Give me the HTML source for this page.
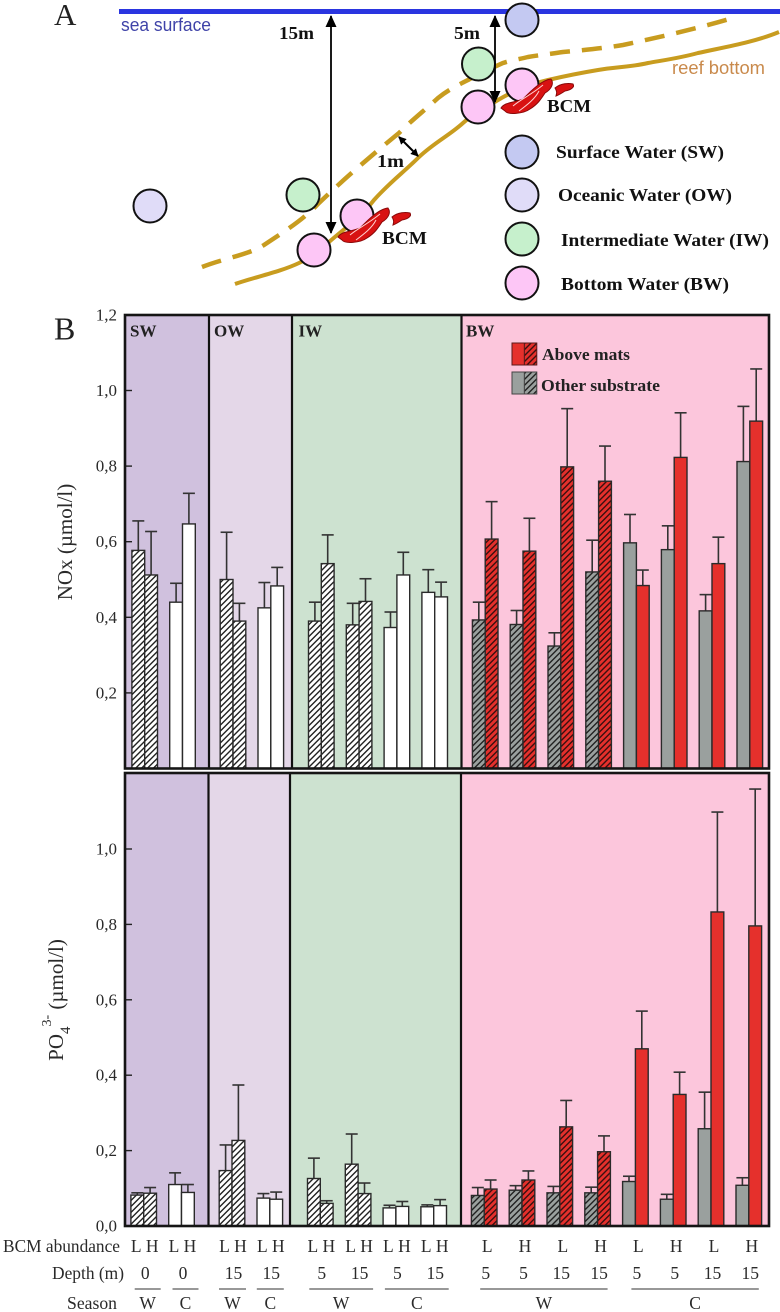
<!DOCTYPE html>
<html lang="en">
<head>
<meta charset="utf-8">
<title>BCM nutrient chart</title>
<style>
html,body{margin:0;padding:0;background:#fff;}
svg{display:block;}
text{font-family:"Liberation Serif","DejaVu Serif",serif;}
</style>
</head>
<body>
<svg id="fig" xmlns="http://www.w3.org/2000/svg" width="780" height="1312" viewBox="0 0 780 1312">
<defs>
<pattern id="hatch-white" patternUnits="userSpaceOnUse" width="4.2" height="4.2" patternTransform="rotate(45)"><rect width="4.2" height="4.2" fill="#fff"/><rect width="1.4" height="4.2" fill="#222"/></pattern>
<pattern id="hatch-gray" patternUnits="userSpaceOnUse" width="4.2" height="4.2" patternTransform="rotate(45)"><rect width="4.2" height="4.2" fill="#9aa09e"/><rect width="1.4" height="4.2" fill="#222"/></pattern>
<pattern id="hatch-red" patternUnits="userSpaceOnUse" width="4.2" height="4.2" patternTransform="rotate(45)"><rect width="4.2" height="4.2" fill="#e5302c"/><rect width="1.4" height="4.2" fill="#3a1010"/></pattern>
<marker id="ah" markerWidth="13" markerHeight="12" refX="11" refY="5.5" orient="auto-start-reverse" markerUnits="userSpaceOnUse"><path d="M0,0 L12,5.5 L0,11 Z" fill="#000"/></marker>
<marker id="ah-small" markerWidth="9" markerHeight="9" refX="7" refY="4" orient="auto-start-reverse" markerUnits="userSpaceOnUse"><path d="M0,0 L8,4 L0,8 Z" fill="#000"/></marker>
</defs>

<g>
<text x="54" y="25" font-size="31" fill="#222">A</text>
<rect x="119" y="9" width="661" height="5" fill="#2a35e0"/>
<text x="121" y="31" font-size="18" fill="#3f43a8" textLength="90" lengthAdjust="spacingAndGlyphs" style="font-family:'Liberation Sans',sans-serif">sea surface</text>
<path d="M235,284 C255,277 280,272 299,263 C315,255 322,248 329,242 C345,228 360,218 374,200 C390,182 404,172 419,157 C435,142 450,135 463,123 C475,112 485,108 498,100 C515,90 530,84 548,80 C565,76 580,73 598,70 C615,67 632,67 648,63 C665,60 680,58 698,53 C725,47 755,42 779,32" fill="none" stroke="#c89c1f" stroke-width="4"/>
<path d="M202,267 C225,258 248,255 264,245 C285,231 303,220 319,203 C345,178 372,155 399,133 C412,120 425,110 438,98 C448,90 458,85 468,80 C480,73 492,68 503,63 C512,60 520,59 528,57 C540,55 550,54 563,52 C585,50 605,48 623,45 C660,37 700,28 736,17" fill="none" stroke="#c89c1f" stroke-width="4.5" stroke-dasharray="20 12"/>
<ellipse cx="522" cy="152" rx="16.5" ry="16.5" fill="#c4c9f2" stroke="#111" stroke-width="2"/>
<ellipse cx="522" cy="195" rx="16.5" ry="16.5" fill="#e0dcf8" stroke="#111" stroke-width="2"/>
<ellipse cx="522" cy="239" rx="16.5" ry="16.5" fill="#c6f0cc" stroke="#111" stroke-width="2"/>
<ellipse cx="522" cy="283" rx="16.5" ry="16.5" fill="#fdc6f6" stroke="#111" stroke-width="2"/>
<ellipse cx="522" cy="20" rx="16.5" ry="16.5" fill="#c4c9f2" stroke="#111" stroke-width="2"/>
<ellipse cx="478.5" cy="64" rx="16.5" ry="16.5" fill="#c6f0cc" stroke="#111" stroke-width="2"/>
<ellipse cx="522" cy="85" rx="16.5" ry="16.5" fill="#fdc6f6" stroke="#111" stroke-width="2"/>
<ellipse cx="478" cy="107" rx="16.5" ry="16.5" fill="#fdc6f6" stroke="#111" stroke-width="2"/>
<ellipse cx="150" cy="206" rx="16.5" ry="16.5" fill="#e0dcf8" stroke="#111" stroke-width="2"/>
<ellipse cx="303" cy="195" rx="16.5" ry="16.5" fill="#c6f0cc" stroke="#111" stroke-width="2"/>
<ellipse cx="357" cy="216" rx="16.5" ry="16.5" fill="#fdc6f6" stroke="#111" stroke-width="2"/>
<ellipse cx="314" cy="250" rx="16.5" ry="16.5" fill="#fdc6f6" stroke="#111" stroke-width="2"/>
<line x1="331" y1="16" x2="331" y2="233" stroke="#000" stroke-width="1.8" marker-start="url(#ah)" marker-end="url(#ah)"/>
<line x1="495" y1="16" x2="495" y2="102" stroke="#000" stroke-width="1.8" marker-start="url(#ah)" marker-end="url(#ah)"/>
<line x1="399" y1="137" x2="418" y2="156" stroke="#000" stroke-width="2" marker-start="url(#ah-small)" marker-end="url(#ah-small)"/>
<g fill="#d81212" stroke="#8a0808" stroke-width="1">
<path d="M338,237 C342,231 350,232 360,228 C366,222 378,209 388,208 C391,212 389,218 382,222 C378,228 375,233 367,238 C360,243 345,244 342,240 Z"/>
<path d="M392,217 C398,212 406,212 410,213 C412,216 408,219 402,220 C399,222 396,224 393,225 C394,222 394,220 392,217 Z"/>
<path d="M350,235 C358,228 368,224 380,214 M356,240 C364,234 372,228 376,220" stroke="#ffd0d0" stroke-width="1" fill="none"/>
</g>
<g fill="#d81212" stroke="#8a0808" stroke-width="1" transform="translate(163,-129)">
<path d="M338,237 C342,231 350,232 360,228 C366,222 378,209 388,208 C391,212 389,218 382,222 C378,228 375,233 367,238 C360,243 345,244 342,240 Z"/>
<path d="M392,217 C398,212 406,212 410,213 C412,216 408,219 402,220 C399,222 396,224 393,225 C394,222 394,220 392,217 Z"/>
<path d="M350,235 C358,228 368,224 380,214 M356,240 C364,234 372,228 376,220" stroke="#ffd0d0" stroke-width="1" fill="none"/>
</g>
<g font-weight="bold" fill="#111" font-size="18">
<text x="279" y="39" textLength="35" lengthAdjust="spacingAndGlyphs">15m</text>
<text x="454" y="39" textLength="26" lengthAdjust="spacingAndGlyphs">5m</text>
<text x="377" y="167" textLength="27" lengthAdjust="spacingAndGlyphs">1m</text>
<text x="382" y="244" textLength="45" lengthAdjust="spacingAndGlyphs">BCM</text>
<text x="547" y="112" textLength="44" lengthAdjust="spacingAndGlyphs">BCM</text>
<text x="556" y="158" textLength="168" lengthAdjust="spacingAndGlyphs">Surface Water (SW)</text>
<text x="558" y="201" textLength="174" lengthAdjust="spacingAndGlyphs">Oceanic Water (OW)</text>
<text x="561" y="246" textLength="208" lengthAdjust="spacingAndGlyphs">Intermediate Water (IW)</text>
<text x="561" y="290" textLength="168" lengthAdjust="spacingAndGlyphs">Bottom Water (BW)</text>
</g>
<text x="672" y="74" font-size="18" fill="#c98a4c" textLength="93" lengthAdjust="spacingAndGlyphs" style="font-family:'Liberation Sans',sans-serif">reef bottom</text>
</g>

<text x="54" y="339.5" font-size="32" fill="#222">B</text>
<g id="charts"></g>
</svg>

<script>
/* ---- data ---- */
const regions = ["SW", "OW", "IW", "BW"];
const groupRegion = ["SW","SW","OW","OW","IW","IW","IW","IW","BW","BW","BW","BW","BW","BW","BW","BW"];
const groupSeason = ["W","C","W","C","W","W","C","C","W","W","W","W","C","C","C","C"];
const groupDepth = ["0","0","15","15","5","15","5","15","5","5","15","15","5","5","15","15"];
const bwAbundance = ["L","H","L","H","L","H","L","H"];
const noxLow  = [0.577,0.440,0.500,0.425,0.390,0.380,0.373,0.466,0.393,0.381,0.324,0.520,0.597,0.579,0.417,0.812];
const noxHigh = [0.512,0.647,0.390,0.483,0.542,0.442,0.512,0.454,0.607,0.575,0.798,0.760,0.484,0.823,0.542,0.919];
const noxLowErr  = [0.655,0.490,0.625,0.492,0.440,0.437,0.414,0.526,0.440,0.418,0.359,0.604,0.672,0.642,0.460,0.958];
const noxHighErr = [0.627,0.728,0.437,0.532,0.618,0.502,0.572,0.493,0.706,0.662,0.952,0.853,0.525,0.941,0.612,1.057];
const poLow  = [0.082,0.110,0.147,0.074,0.126,0.164,0.048,0.051,0.081,0.095,0.088,0.088,0.118,0.071,0.258,0.108];
const poHigh = [0.087,0.089,0.227,0.071,0.060,0.086,0.052,0.054,0.098,0.122,0.263,0.197,0.470,0.349,0.833,0.796];
const poLowErr  = [0.088,0.141,0.215,0.086,0.180,0.244,0.055,0.056,0.102,0.107,0.105,0.103,0.132,0.084,0.355,0.128];
const poHighErr = [0.102,0.110,0.374,0.090,0.067,0.114,0.065,0.070,0.122,0.146,0.333,0.239,0.570,0.408,1.098,1.159];
const noxTicks = ["0,2","0,4","0,6","0,8","1,0","1,2"];
const noxTickValues = [0.2,0.4,0.6,0.8,1.0,1.2];
const poTicks = ["0,0","0,2","0,4","0,6","0,8","1,0"];
const poTickValues = [0,0.2,0.4,0.6,0.8,1.0];

/* ---- axis functions ---- */
const NS = "http://www.w3.org/2000/svg";
const root = document.getElementById("charts");
function noxY(v){ return 768.5 - v * 378; }
function poY(v){ return 1226 - v * 377; }
function regionBreaks(i){
  let n = 0;
  for (let k = 1; k <= i; k++) { if (groupRegion[k] !== groupRegion[k-1]) n++; }
  return n;
}
function groupX(i, shift){ return 144.7 + 37.8 * i + 12.7 * regionBreaks(i) + shift; }
function el(tag, attrs, parent){
  const e = document.createElementNS(NS, tag);
  for (const k in attrs) e.setAttribute(k, attrs[k]);
  (parent || root).appendChild(e);
  return e;
}
function label(str, x, y, size, extra){
  const t = el("text", Object.assign({x:x, y:y, "font-size":size, fill:"#2a2a2a"}, extra || {}));
  t.textContent = str;
  return t;
}
function barFill(region, season, isHigh){
  const base = region !== "BW" ? "white" : (isHigh ? "red" : "gray");
  if (season === "W") return "url(#hatch-" + base + ")";
  return base === "white" ? "#fff" : base === "red" ? "#e5302c" : "#9aa09e";
}
const panelFills = {SW:"#d0c1de", OW:"#e4d7e8", IW:"#cde2d0", BW:"#fcc6dc"};
const spanInsetLeft = {SW:9, OW:13, IW:11, BW:4};
const spanInsetRight = {SW:17, OW:14, IW:15, BW:10};

function drawPanel(key, yFn, yTop, yBottom, dividers, shift, lows, highs, lowErrs, highErrs, ticks, tickValues){
  const edges = [125].concat(dividers).concat([769]);
  regions.forEach(function(r, idx){
    const bg = el("rect", {x:edges[idx], y:yTop, width:edges[idx+1]-edges[idx], height:yBottom-yTop, fill:panelFills[r]});
    
    
  });
  tickValues.forEach(function(v, i){
    const y = yFn(v);
    if (v > 0 && v < 1.2) {
      const tk = el("line", {x1:125, x2:132, y1:y, y2:y, stroke:"#222", "stroke-width":1.4});
      
      
    }
    const tl = label(ticks[i], 117, y + 5.5, 17, {"text-anchor":"end"});
    
    
  });
  groupRegion.forEach(function(r, i){
    const cx = groupX(i, shift), w = 12.8;
    const s = groupSeason[i];
    [[lows[i], lowErrs[i], false], [highs[i], highErrs[i], true]].forEach(function(b){
      const x = b[2] ? cx : cx - w;
      const m = x + w/2;
      const stem = el("line", {x1:m, x2:m, y1:yFn(b[0]), y2:yFn(b[1]), stroke:"#333", "stroke-width":1.6});
      
      
      const cap = el("line", {x1:m-6, x2:m+6, y1:yFn(b[1]), y2:yFn(b[1]), stroke:"#333", "stroke-width":1.6});
      
      
    });
    [[lows[i], false], [highs[i], true]].forEach(function(b){
      const x = b[1] ? cx : cx - w;
      const rc = el("rect", {x:x, y:yFn(b[0]), width:w, height:yBottom-yFn(b[0]), fill:barFill(r, s, b[1]), stroke:"#2a2a2a", "stroke-width":1.4});
      
      
    });
  });
  dividers.forEach(function(x){
    const d = el("line", {x1:x, x2:x, y1:yTop, y2:yBottom, stroke:"#111", "stroke-width":2.2});
    
    
  });
  const fr = el("rect", {x:125, y:yTop, width:644, height:yBottom-yTop, fill:"none", stroke:"#151515", "stroke-width":2.6});
  
  
}

drawPanel("nox", noxY, 315, 768.5, [209, 292, 461.5], 0, noxLow, noxHigh, noxLowErr, noxHighErr, noxTicks, noxTickValues);
drawPanel("po4", poY, 773, 1226, [208.5, 290, 461], -1, poLow, poHigh, poLowErr, poHighErr, poTicks, poTickValues);

/* region labels */
regions.forEach(function(r, i){
  const xs = [130, 214, 298.5, 466];
  const t = label(r, xs[i], 336.5, 17, {"font-weight":"bold", fill:"#222"});
  
  
});

/* legend */
[["Above mats", 343, "#e5302c", "url(#hatch-red)", 542, 360, "#5a1a1a", 88], ["Other substrate", 372, "#9aa09e", "url(#hatch-gray)", 541, 391, "#444", 119]].forEach(function(d){
  const a = el("rect", {x:512, y:d[1], width:12.4, height:22, fill:d[2], stroke:d[6], "stroke-width":1});
  
  
  const b = el("rect", {x:524.4, y:d[1], width:12.4, height:22, fill:d[3], stroke:d[6], "stroke-width":1});
  
  
  const t = label(d[0], d[4], d[5], 16.5, {"font-weight":"bold", fill:"#222", textLength:d[7], lengthAdjust:"spacingAndGlyphs"});
  
  
});

/* y-axis titles */
const t1 = label("NOx (µmol/l)", 0, 0, 21, {"text-anchor":"middle", transform:"translate(72,542) rotate(-90)"});


const t2 = label("", 0, 0, 21, {"text-anchor":"middle", transform:"translate(63,1000) rotate(-90)"});


el("tspan", {}, t2).textContent = "PO";
el("tspan", {dy:7, "font-size":15}, t2).textContent = "4";
el("tspan", {dy:-19, "font-size":14}, t2).textContent = "3-";
el("tspan", {dy:12}, t2).textContent = " (µmol/l)";

/* row titles */
[["BCM abundance", 3, 1252, 117], ["Depth (m)", 52, 1279, 72], ["Season", 67, 1309, 50]].forEach(function(d){
  const t = label(d[0], d[1], d[2], 17.5, {textLength:d[3], lengthAdjust:"spacingAndGlyphs"});
  
  
});

/* abundance and depth rows */
groupRegion.forEach(function(r, i){
  const cx = groupX(i, -1);
  if (r !== "BW") {
    const a = label("L", cx - 7.5, 1252, 17.5, {"text-anchor":"middle"});
    
    
    const b = label("H", cx + 8.5, 1252, 17.5, {"text-anchor":"middle"});
    
    
  } else {
    const c = label(bwAbundance[i - 8], cx + 3, 1252, 17.5, {"text-anchor":"middle"});
    
    
  }
  const d = label(groupDepth[i], cx + 1.5, 1279, 17.5, {"text-anchor":"middle"});
  
  
});

/* season spans: runs of groups sharing a region and season */
let runStart = 0;
groupRegion.forEach(function(r, i){
  const last = i === groupRegion.length - 1;
  if (last || groupRegion[i+1] !== r || groupSeason[i+1] !== groupSeason[i]) {
    const x1 = groupX(runStart, -1) - spanInsetLeft[r], x2 = groupX(i, -1) + spanInsetRight[r];
    const ln = el("line", {x1:x1, x2:x2, y1:1289, y2:1289, stroke:"#777", "stroke-width":1.4});
    
    
    const s = label(groupSeason[i], (x1 + x2) / 2, 1309, 17.5, {"text-anchor":"middle"});
    
    
    runStart = i + 1;
  }
});
</script>
</body>
</html>
